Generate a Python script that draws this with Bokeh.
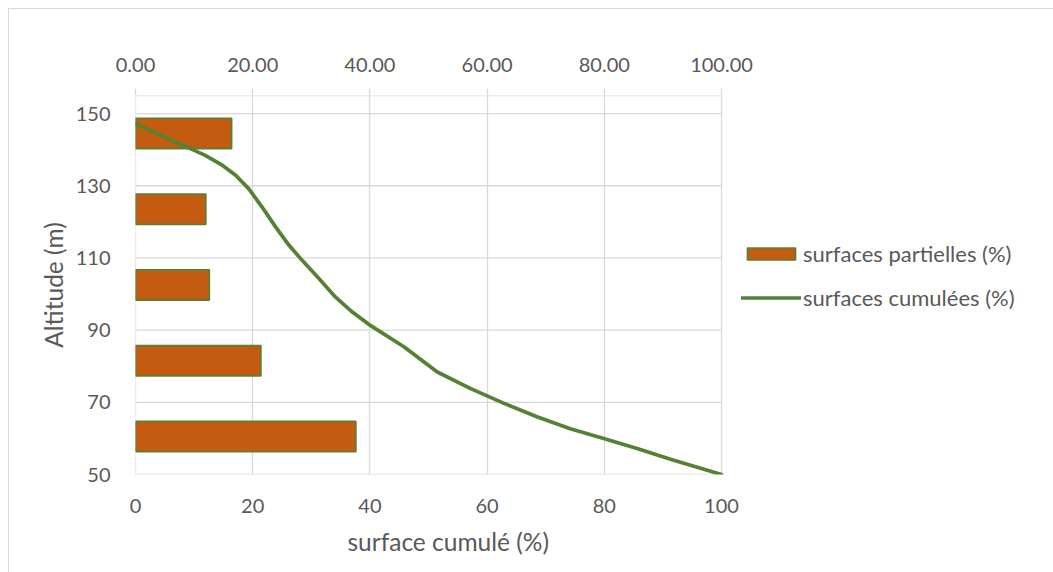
from bokeh.plotting import figure
from bokeh.models import (ColumnDataSource, Range1d, LinearAxis, Title,
                          FixedTicker, NumeralTickFormatter, Legend, LegendItem,
                          InlineStyleSheet)
from bokeh.embed import file_html
from bokeh.resources import INLINE

# Altitude classes (bottom to top) and their share of the total surface
classes = ["50-70", "70-90", "90-110", "110-130", "130-150"]
partial_pct = [37.6, 21.4, 12.6, 12.0, 16.4]

# Cumulated surface (%) against altitude (m)
cum_pct = [0, 3.4, 6.8, 9.1, 11.9, 14.8, 17.1, 19.3, 21.6, 23.9, 26.2, 28.4, 31.3, 34.1,
           37.0, 39.8, 45.8, 51.5, 57.2, 62.9, 68.5, 74.2, 79.9, 85.6, 91.3, 100]
cum_alt = [147.2, 144.7, 142.1, 140.5, 138.4, 135.7, 132.9, 129.2, 124.1, 118.6, 113.5, 109.4, 104.3, 99.2,
           95.0, 91.6, 85.4, 78.4, 73.8, 69.7, 66.0, 62.7, 60.0, 57.2, 54.2, 50]

x_ticks = [0, 20, 40, 60, 80, 100]
y_ticks = [50, 70, 90, 110, 130, 150]
X_MAX, Y_MIN, Y_MAX = 100, 50, 155

GRID = "#D9D9D9"
TEXT = "#595959"
ORANGE = "#C55A11"
GREEN = "#548235"
FONT = "Lato"
FS = "20px"

W, H = 1053, 572
LEFT, PLOT_RIGHT, TOP, BOTTOM = 135, 721, 95, 474
# the frame runs to the right edge so the legend can sit beside the plot area
x_end = X_MAX * (W - LEFT) / (PLOT_RIGHT - LEFT)

p = figure(width=W, height=H, output_backend="svg", toolbar_location=None,
           x_range=Range1d(0, x_end), y_range=Range1d(Y_MIN, Y_MAX),
           min_border_left=LEFT, min_border_right=0,
           min_border_top=TOP, min_border_bottom=H - BOTTOM,
           x_axis_location="below")
p.outline_line_color = None
p.background_fill_color = "white"
p.border_fill_color = "white"

# secondary ranges for the bar series: one slot per altitude class
p.extra_x_ranges = {"top": Range1d(0, x_end)}
p.extra_y_ranges = {"cls": Range1d(0, len(classes))}
slot = [i + 0.5 for i in range(len(classes))]

# vertical grid from the axis ticks, horizontal grid limited to the plot area
p.xgrid.ticker = FixedTicker(ticks=x_ticks)
p.xgrid.grid_line_color = GRID
p.xgrid.grid_line_width = 1.3
p.ygrid.grid_line_color = None
p.segment(x0=[0] * len(y_ticks), x1=[X_MAX] * len(y_ticks), y0=y_ticks, y1=y_ticks,
          line_color=GRID, line_width=1.3)
# plot-area edge on top and left axis line
p.segment(x0=[0, 0], x1=[X_MAX, 0], y0=[Y_MAX, Y_MIN], y1=[Y_MAX, Y_MAX],
          line_color=GRID, line_width=1.3)

# primary axes
xa = p.xaxis[0]
xa.ticker = FixedTicker(ticks=x_ticks)
ya = p.yaxis[0]
ya.ticker = FixedTicker(ticks=y_ticks)
for ax in (xa, ya):
    ax.axis_line_color = None
    ax.major_tick_line_color = None
    ax.minor_tick_line_color = None
    ax.major_label_text_font = FONT
    ax.major_label_text_font_size = FS
    ax.major_label_text_color = TEXT
xa.major_label_standoff = 18
ya.major_label_standoff = 19
ya.axis_label = "Altitude (m)"
ya.axis_label_text_font = FONT
ya.axis_label_text_font_size = "24.5px"
ya.axis_label_text_font_style = "normal"
ya.axis_label_text_color = TEXT
ya.axis_label_standoff = 5

# secondary horizontal axis on top
ta = LinearAxis(x_range_name="top", ticker=FixedTicker(ticks=x_ticks),
                formatter=NumeralTickFormatter(format="0.00"))
ta.axis_line_color = None
ta.major_tick_line_color = GRID
ta.major_tick_line_width = 1.3
ta.major_tick_out = 7
ta.major_tick_in = 0
ta.minor_tick_line_color = None
ta.major_label_text_font = FONT
ta.major_label_text_font_size = FS
ta.major_label_text_color = TEXT
ta.major_label_standoff = 17
p.add_layout(ta, "above")

# bottom axis title
p.add_layout(Title(text="surface cumulé (%)", align="left", offset=205, padding=7,
                   text_font=FONT, text_font_size="24.5px",
                   text_font_style="normal", text_color=TEXT, standoff=4), "below")

# partial surfaces as horizontal bars
bars_src = ColumnDataSource(dict(cls=classes, slot=slot, pct=partial_pct))
bars = p.hbar(y="slot", left=0, right="pct", height=0.4, source=bars_src,
              x_range_name="top", y_range_name="cls",
              fill_color=ORANGE, line_color=GREEN, line_width=1.7)

# cumulated surface curve
line_src = ColumnDataSource(dict(pct=cum_pct, alt=cum_alt))
curve = p.line(x="pct", y="alt", source=line_src, line_color=GREEN,
               line_width=3.7, line_join="round", line_cap="round")

# legend beside the plot area
legend = Legend(items=[LegendItem(label="surfaces partielles (%)", renderers=[bars]),
                       LegendItem(label="surfaces cumulées (%)", renderers=[curve])],
                location=(606, 163), orientation="vertical",
                glyph_width=60, glyph_height=15, label_height=15,
                label_standoff=2, padding=0, margin=0, spacing=17,
                border_line_alpha=0, background_fill_alpha=0,
                label_text_font=FONT, label_text_font_size="22px",
                label_text_color=TEXT)
p.add_layout(legend, "center")

# thin frame around the chart area
p.stylesheets = [InlineStyleSheet(css=":host::after { content: ''; position: absolute; left: 8px; top: 8px; right: 0; bottom: 0; border-left: 1px solid #D9D9D9; border-top: 1px solid #D9D9D9; pointer-events: none; }")]

open("out.html", "w").write(file_html(p, INLINE))
